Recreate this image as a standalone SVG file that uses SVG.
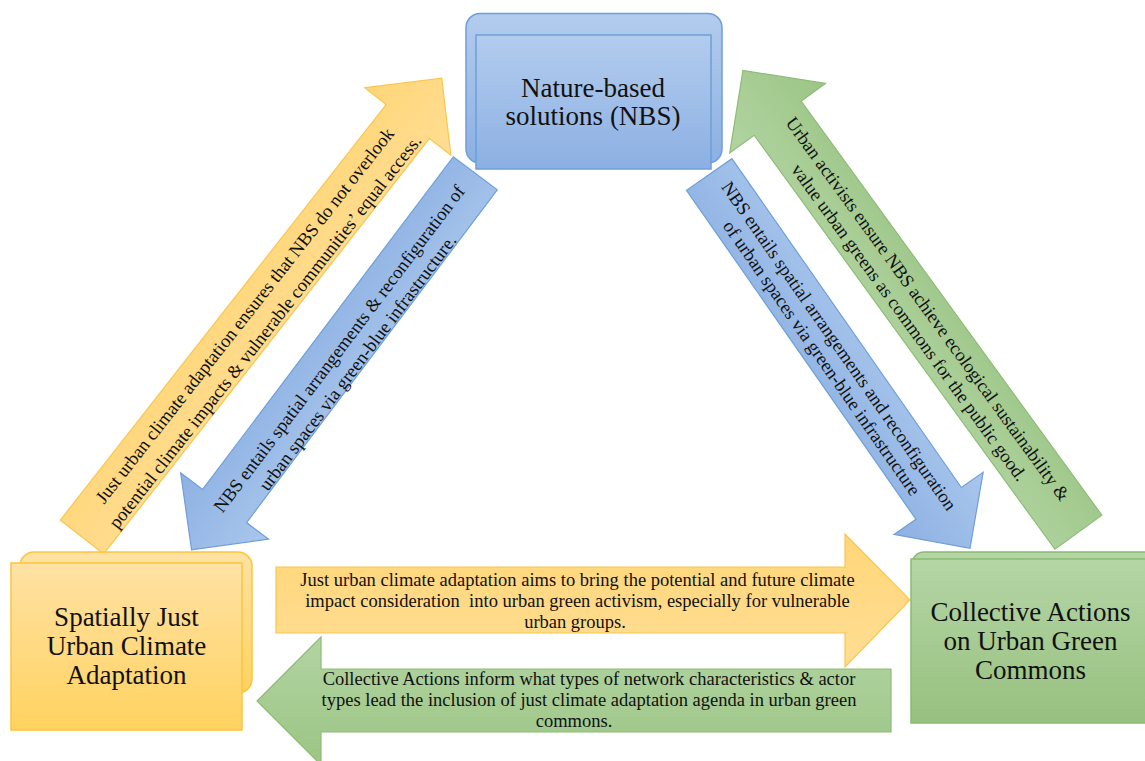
<svg xmlns="http://www.w3.org/2000/svg" width="1145" height="761" viewBox="0 0 1145 761">
<defs>
<linearGradient id="gB" x1="0" y1="0" x2="0" y2="1"><stop offset="0" stop-color="#B3CCEE"/><stop offset="1" stop-color="#8CB0E3"/></linearGradient>
<linearGradient id="gY" x1="0" y1="0" x2="0" y2="1"><stop offset="0" stop-color="#FFE2A4"/><stop offset="1" stop-color="#FFD260"/></linearGradient>
<linearGradient id="gG" x1="0" y1="0" x2="0" y2="1"><stop offset="0" stop-color="#B5D5A6"/><stop offset="1" stop-color="#97C17F"/></linearGradient>
<linearGradient id="aY" x1="0" y1="0" x2="0" y2="1"><stop offset="0" stop-color="#FFD678"/><stop offset="1" stop-color="#FFDD94"/></linearGradient>
<linearGradient id="aB" x1="0" y1="0" x2="0" y2="1"><stop offset="0" stop-color="#A9C6EC"/><stop offset="1" stop-color="#8DB1E3"/></linearGradient>
<linearGradient id="aG" x1="0" y1="0" x2="0" y2="1"><stop offset="0" stop-color="#B2D4A2"/><stop offset="1" stop-color="#9CC585"/></linearGradient>
</defs>
<style>
.nt{font-family:"Liberation Serif","Times New Roman",serif;font-size:27px;fill:#111;text-anchor:middle}
.lb{font-family:"Liberation Serif","Times New Roman",serif;font-size:18.5px;fill:#111;text-anchor:middle}
.ay{fill:url(#aY);stroke:#FAC64C;stroke-width:1.2}
.ab{fill:url(#aB);stroke:#6E9FD9;stroke-width:1.2}
.ag{fill:url(#aG);stroke:#8DBC76;stroke-width:1.2}
.by{fill:url(#gY);stroke:#FBC53E;stroke-width:1.5}
.bb{fill:url(#gB);stroke:#6E9FD9;stroke-width:1.5}
.bg{fill:url(#gG);stroke:#8ABA72;stroke-width:1.5}
</style>
<rect width="1145" height="761" fill="#FFFFFF"/>
<g id="connectors">
 <g id="edge-adapt-nbs">
  <polygon class="ay" transform="translate(82,537) rotate(-51.9)" points="0,-27.5 528,-27.5 528,-54.7 583,0 528,54.7 528,27.5 0,27.5"/>
  <g class="lb" transform="translate(256.2,324.6) rotate(-51.9)">
   <text x="0" y="-8.5">Just urban climate adaptation ensures that NBS do not overlook</text>
   <text x="0" y="17.5">potential climate impacts &amp; vulnerable communities’ equal access.</text>
  </g>
 </g>
 <g id="edge-nbs-adapt">
  <polygon class="ab" transform="translate(475.3,173.3) rotate(127)" points="0,-27.5 416.6,-27.5 416.6,-55 471.5,0 416.6,55 416.6,27.5 0,27.5"/>
  <g class="lb" transform="translate(345.7,353.7) rotate(-53)">
   <text x="0" y="-2">NBS entails spatial arrangements &amp; reconfiguration of</text>
   <text x="0" y="21">urban spaces via green-blue infrastructure.</text>
  </g>
 </g>
 <g id="edge-nbs-commons">
  <polygon class="ab" transform="translate(709.2,174.5) rotate(55.1)" points="0,-27.7 401,-27.7 401,-54.3 455.8,0 401,54.3 401,27.7 0,27.7"/>
  <g class="lb" transform="translate(829.1,352.9) rotate(55.1)">
   <text x="0" y="-6">NBS entails spatial arrangements and reconfiguration</text>
   <text x="0" y="15">of urban spaces via green-blue infrastructure</text>
  </g>
 </g>
 <g id="edge-commons-nbs">
  <polygon class="ag" transform="translate(1078.4,532.2) rotate(-126)" points="0,-29 511.7,-29 511.7,-59.2 570.7,0 511.7,59.2 511.7,29 0,29"/>
  <g class="lb" transform="translate(917.1,316.7) rotate(54)">
   <text x="0" y="-7">Urban activists ensure NBS achieve ecological sustainability &amp;</text>
   <text x="0" y="16">value urban greens as commons for the public good.</text>
  </g>
 </g>
 <g id="edge-adapt-commons">
  <polygon class="ay" points="276,567 845,567 845,534 910,600 845,667 845,633 276,633"/>
  <g class="lb">
   <text x="577.5" y="586">Just urban climate adaptation aims to bring the potential and future climate</text>
   <text x="577.5" y="607" xml:space="preserve">impact consideration  into urban green activism, especially for vulnerable</text>
   <text x="575" y="628">urban groups.</text>
  </g>
 </g>
 <g id="edge-commons-adapt">
  <polygon class="ag" points="891,669 321,669 321,637 257,701 321,765 321,732 891,732"/>
  <g class="lb">
   <text x="589" y="685">Collective Actions inform what types of network characteristics &amp; actor</text>
   <text x="589" y="706">types lead the inclusion of just climate adaptation agenda in urban green</text>
   <text x="574" y="727">commons.</text>
  </g>
 </g>
</g>
<g id="node-nbs">
 <rect class="bb" x="466" y="13.5" width="256" height="149.5" rx="14"/>
 <rect class="bb" x="476" y="35" width="235" height="134"/>
 <text class="nt" x="593" y="97">Nature-based</text>
 <text class="nt" x="593" y="124.5">solutions (NBS)</text>
</g>
<g id="node-adaptation">
 <rect class="by" x="20" y="552" width="232" height="141" rx="14"/>
 <rect class="by" x="11" y="563" width="231" height="167"/>
 <text class="nt" x="126.5" y="626">Spatially Just</text>
 <text class="nt" x="126.5" y="655">Urban Climate</text>
 <text class="nt" x="126.5" y="684">Adaptation</text>
</g>
<g id="node-commons">
 <rect class="bg" x="912" y="552" width="250" height="163" rx="12"/>
 <rect class="bg" x="911" y="559" width="250" height="164"/>
 <text class="nt" x="1030.5" y="621">Collective Actions</text>
 <text class="nt" x="1030.5" y="650">on Urban Green</text>
 <text class="nt" x="1030.5" y="679">Commons</text>
</g>
</svg>
